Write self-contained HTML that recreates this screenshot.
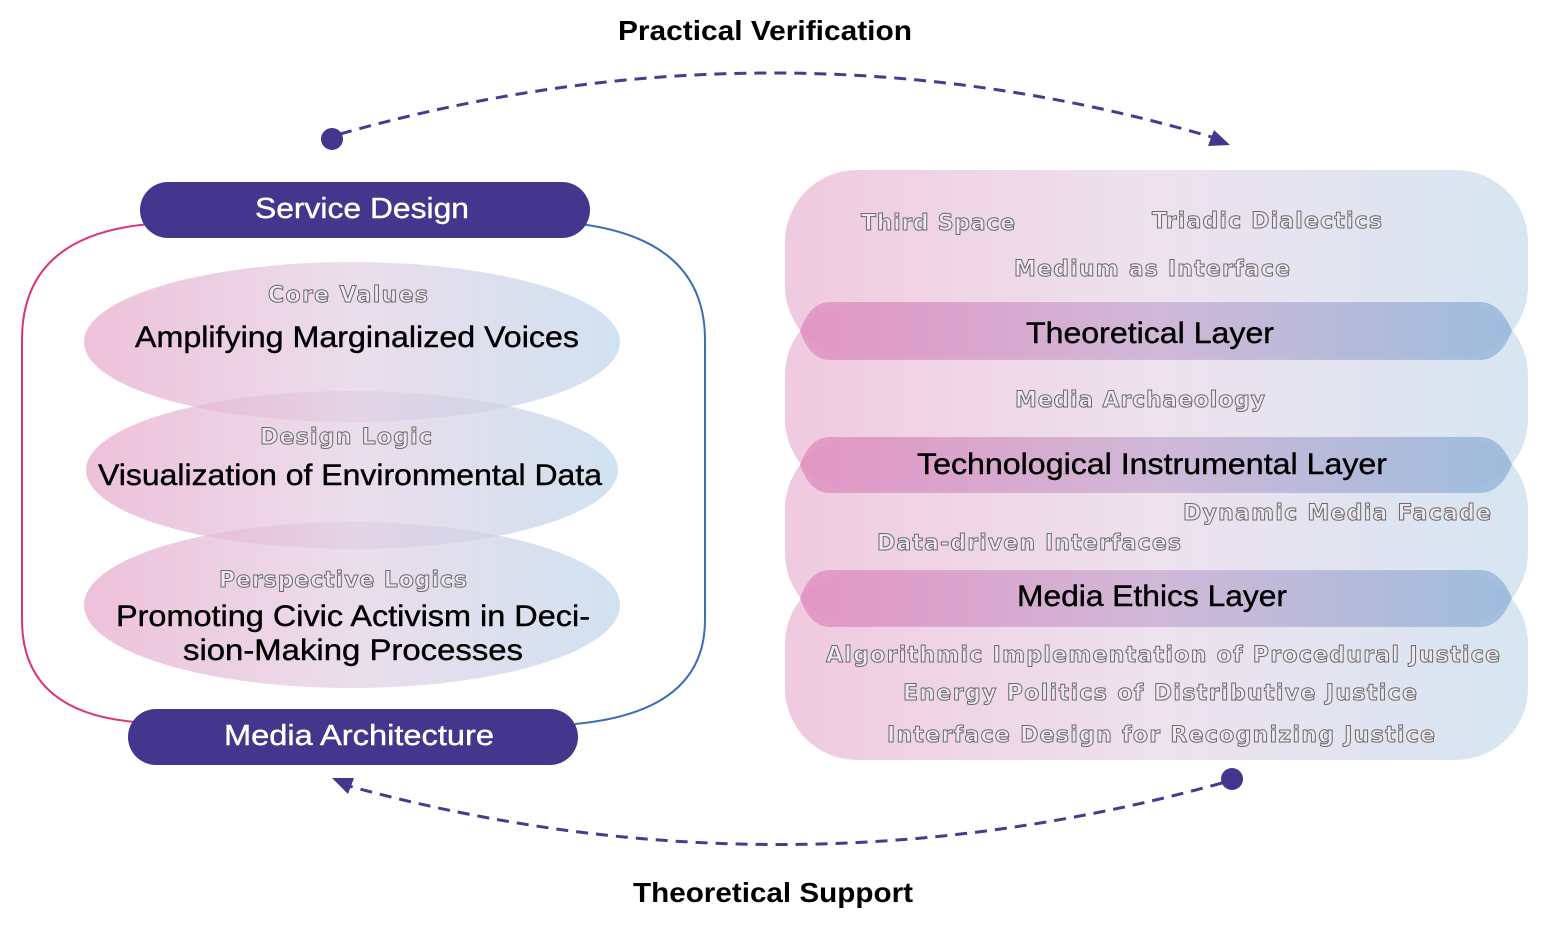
<!DOCTYPE html>
<html><head><meta charset="utf-8"><style>
html,body{margin:0;padding:0;background:#fff}
svg{display:block}
.o{font-family:"DejaVu Sans","Liberation Sans",sans-serif;font-size:22px;font-weight:bold;fill:#efe8f0;stroke:#6a6a6a;stroke-width:1px;text-anchor:middle}
.b{font-family:"Liberation Sans",sans-serif;font-size:30px;fill:#000;stroke:#000;stroke-width:0.4px;text-anchor:middle}
.w{font-family:"Liberation Sans",sans-serif;font-size:29px;fill:#fff;stroke:#fff;stroke-width:0.4px;text-anchor:middle}
.t{font-family:"Liberation Sans",sans-serif;font-size:28px;font-weight:bold;fill:#000;text-anchor:middle}
</style></head><body>
<svg width="1560" height="948" viewBox="0 0 1560 948" xmlns="http://www.w3.org/2000/svg">
<defs>
<linearGradient id="lg" x1="0" x2="1" y1="0" y2="0">
<stop offset="0" stop-color="#e7a6ca"/><stop offset="0.5" stop-color="#e2cfe3"/><stop offset="1" stop-color="#bcd5ea"/>
</linearGradient>
<linearGradient id="dg" x1="0" x2="1" y1="0" y2="0">
<stop offset="0" stop-color="#e08dbf"/><stop offset="0.5" stop-color="#cbb0d3"/><stop offset="1" stop-color="#93b5d9"/>
</linearGradient>
</defs>
<text class="t" x="765" y="40" textLength="294" lengthAdjust="spacingAndGlyphs">Practical Verification</text>
<text class="t" x="773" y="902" textLength="280" lengthAdjust="spacingAndGlyphs">Theoretical Support</text>

<path d="M340,134 Q780,10 1215,138" fill="none" stroke="#4a3a8f" stroke-width="3" stroke-dasharray="12,8"/>
<circle cx="332" cy="139" r="11" fill="#44368c"/>
<polygon points="1230,145 1208,146 1214,130" fill="#44368c"/>
<path d="M1222,783 Q780,905 345,785" fill="none" stroke="#4a3a8f" stroke-width="3" stroke-dasharray="12,8"/>
<circle cx="1232" cy="779" r="11" fill="#44368c"/>
<polygon points="332,778 354,778 348,794" fill="#44368c"/>

<path d="M150,224 Q22,235 22,340 L22,620 Q22,712 135,722" fill="none" stroke="#d9357f" stroke-width="2"/>
<path d="M580,224 Q705,240 705,340 L705,620 Q705,712 575,724" fill="none" stroke="#3a6fb3" stroke-width="2"/>

<ellipse cx="352" cy="342" rx="268" ry="80" fill="url(#lg)" opacity="0.7"/>
<ellipse cx="352" cy="470" rx="266" ry="79" fill="url(#lg)" opacity="0.7"/>
<ellipse cx="352" cy="605" rx="268" ry="83" fill="url(#lg)" opacity="0.7"/>
<text class="o" x="348" y="302" textLength="160">Core Values</text>
<text class="b" x="357" y="347" textLength="444" lengthAdjust="spacingAndGlyphs">Amplifying Marginalized Voices</text>
<text class="o" x="346" y="444" textLength="172">Design Logic</text>
<text class="b" x="350" y="485" textLength="504" lengthAdjust="spacingAndGlyphs">Visualization of Environmental Data</text>
<text class="o" x="343" y="587" textLength="248">Perspective Logics</text>
<text class="b" x="353" y="626" textLength="474" lengthAdjust="spacingAndGlyphs">Promoting Civic Activism in Deci-</text>
<text class="b" x="353" y="660" textLength="340" lengthAdjust="spacingAndGlyphs">sion-Making Processes</text>

<rect x="140" y="182" width="450" height="56" rx="28" fill="#44368c"/>
<text class="w" x="362" y="218" textLength="214" lengthAdjust="spacingAndGlyphs">Service Design</text>
<rect x="128" y="709" width="450" height="56" rx="28" fill="#44368c"/>
<text class="w" x="359" y="745" textLength="270" lengthAdjust="spacingAndGlyphs">Media Architecture</text>

<rect x="785" y="170" width="743" height="188" rx="72" fill="url(#lg)" opacity="0.6"/>
<rect x="785" y="303" width="743" height="188" rx="72" fill="url(#lg)" opacity="0.6"/>
<rect x="785" y="437" width="743" height="188" rx="72" fill="url(#lg)" opacity="0.6"/>
<rect x="785" y="572" width="743" height="188" rx="72" fill="url(#lg)" opacity="0.6"/>
<g opacity="0.8">
<path d="M830,302 L1480,302 Q1500,302 1512,331 Q1500,360 1480,360 L830,360 Q810,360 800,331 Q810,302 830,302 Z" fill="url(#dg)"/>
<path d="M830,437 L1480,437 Q1500,437 1512,465 Q1500,493 1480,493 L830,493 Q810,493 800,465 Q810,437 830,437 Z" fill="url(#dg)"/>
<path d="M830,570 L1480,570 Q1500,570 1512,598 Q1500,627 1480,627 L830,627 Q810,627 800,598 Q810,570 830,570 Z" fill="url(#dg)"/>
</g>
<text class="o" x="938" y="230" textLength="154">Third Space</text>
<text class="o" x="1267" y="228" textLength="230">Triadic Dialectics</text>
<text class="o" x="1152" y="276" textLength="276">Medium as Interface</text>
<text class="b" x="1150" y="343" textLength="248" lengthAdjust="spacingAndGlyphs">Theoretical Layer</text>
<text class="o" x="1140" y="407" textLength="250">Media Archaeology</text>
<text class="b" x="1152" y="474" textLength="470" lengthAdjust="spacingAndGlyphs">Technological Instrumental Layer</text>
<text class="o" x="1337" y="520" textLength="308">Dynamic Media Facade</text>
<text class="o" x="1029" y="550" textLength="304">Data-driven Interfaces</text>
<text class="b" x="1152" y="606" textLength="270" lengthAdjust="spacingAndGlyphs">Media Ethics Layer</text>
<text class="o" x="1163" y="662" textLength="674">Algorithmic Implementation of Procedural Justice</text>
<text class="o" x="1160" y="700" textLength="514">Energy Politics of Distributive Justice</text>
<text class="o" x="1161" y="742" textLength="548">Interface Design for Recognizing Justice</text>
</svg>
</body></html>
